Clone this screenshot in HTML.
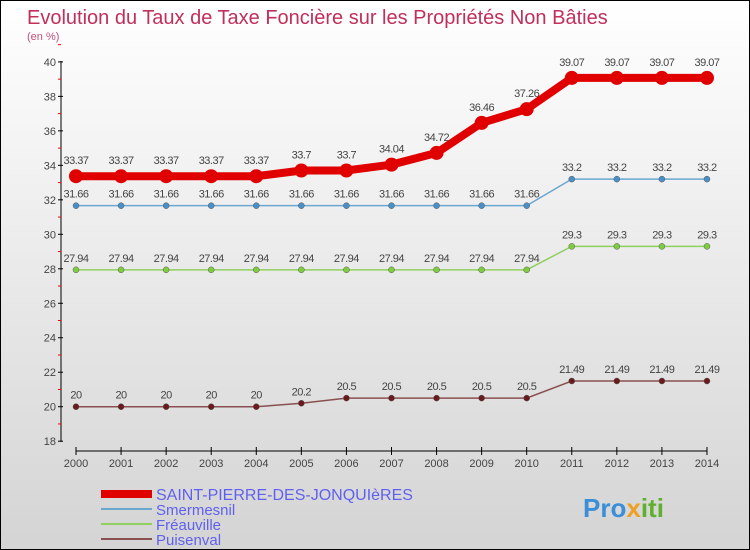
<!DOCTYPE html>
<html><head><meta charset="utf-8"><style>
body{margin:0}
#wrap{position:relative;width:748px;height:548px;border:1px solid #000;background:linear-gradient(#fff,#d4d4d4);font-family:"Liberation Sans",sans-serif;overflow:hidden}
</style></head><body>
<div id="wrap">
<svg id="c" width="748" height="548" xmlns="http://www.w3.org/2000/svg">
<text x="26" y="23" font-size="20" fill="#c0305a">Evolution du Taux de Taxe Foncière sur les Propriétés Non Bâties</text>
<text x="26" y="39" font-size="11" fill="#c0507a">(en %)</text>
<g id="axes"></g><g id="series"></g><g id="legend"></g>
<text x="582" y="516" font-size="26" font-weight="bold" fill="#3a8fd8">Pro<tspan fill="#f0a020">x</tspan><tspan fill="#60b030">iti</tspan></text>
</svg></div>
<script>
const years=[2000,2001,2002,2003,2004,2005,2006,2007,2008,2009,2010,2011,2012,2013,2014];
const yTicks=[18,20,22,24,26,28,30,32,34,36,38,40];
const saint=[33.37,33.37,33.37,33.37,33.37,33.7,33.7,34.04,34.72,36.46,37.26,39.07,39.07,39.07,39.07];
const smer=[31.66,31.66,31.66,31.66,31.66,31.66,31.66,31.66,31.66,31.66,31.66,33.2,33.2,33.2,33.2];
const freau=[27.94,27.94,27.94,27.94,27.94,27.94,27.94,27.94,27.94,27.94,27.94,29.3,29.3,29.3,29.3];
const puis=[20,20,20,20,20,20.2,20.5,20.5,20.5,20.5,20.5,21.49,21.49,21.49,21.49];
const names=["SAINT-PIERRE-DES-JONQUIèRES","Smermesnil","Fréauville","Puisenval"];
const NS="http://www.w3.org/2000/svg";
const X=i=>75+i*45.07, Y=v=>405.7-(v-20)*17.24;
function mk(t,a,p){const e=document.createElementNS(NS,t);for(const k in a)e.setAttribute(k,a[k]);p.appendChild(e);return e;}
const ax=document.getElementById('axes');
let l=mk('line',{x1:60,y1:60,x2:60,y2:441,stroke:'#000'},ax);

yTicks.forEach(v=>{mk('line',{x1:57,y1:Y(v),x2:62,y2:Y(v),stroke:'#000'},ax);
 mk('line',{x1:57,y1:Y(v+1),x2:60,y2:Y(v+1),stroke:'#f00'},ax);
 const t=mk('text',{x:55,y:Y(v)+4,'font-size':11,'text-anchor':'end',fill:'#444'},ax);t.textContent=v;
 });
l=mk('line',{x1:75,y1:450,x2:706,y2:450,stroke:'#000'},ax);

years.forEach((y,i)=>{mk('line',{x1:X(i),y1:446,x2:X(i),y2:454,stroke:'#000'},ax);
 const t=mk('text',{x:X(i),y:466,'font-size':11,'text-anchor':'middle',fill:'#444'},ax);t.textContent=y;
 });
const S=[[saint,'#e00000',8,7,'#e00000'],[smer,'#6aa8d0',1.5,3,'#4a90c8'],[freau,'#90d060',1.5,3,'#80cc40'],[puis,'#8a5050',1.5,3,'#6a1a1a']];
const sg=document.getElementById('series');
S.forEach((s,k)=>{const g=mk('g',{},sg);
 
 mk('polyline',{points:s[0].map((v,i)=>X(i)+','+Y(v)).join(' '),fill:'none',stroke:s[1],'stroke-width':s[2]},g);
 s[0].forEach((v,i)=>{const c=mk('circle',{cx:X(i),cy:Y(v),r:s[3],fill:s[4],stroke:k?'#555':'none','stroke-width':0.5},g);
  
  const t=mk('text',{x:X(i),y:Y(v)-8-(k?0:4),'font-size':11,'text-anchor':'middle',fill:'#444','letter-spacing':'-0.5'},g);t.textContent=v;
  });
});
const lg=document.getElementById('legend');
S.forEach((s,k)=>{const y=493+k*15;const g=mk('g',{},lg);
 
 mk('line',{x1:100,y1:y,x2:151,y2:y,stroke:s[1],'stroke-width':k?2:8},g);
 const t=mk('text',{x:155,y:y+6,'font-size':k?15:16,fill:'#6060f0'},g);t.textContent=names[k];});
</script></body></html>
